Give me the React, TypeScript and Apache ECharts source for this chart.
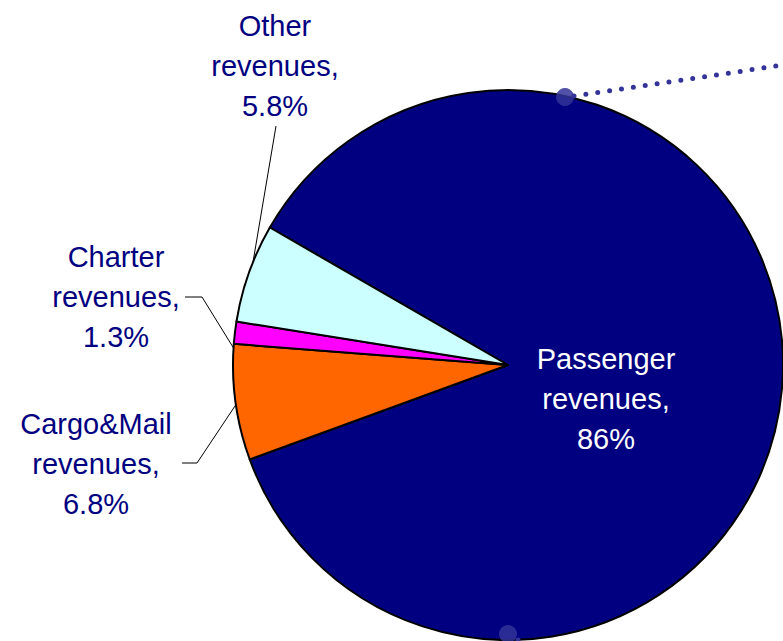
import React, { useEffect, useRef } from "react";
import * as echarts from "echarts";

const categories = ["Passenger revenues", "Cargo&Mail revenues", "Charter revenues", "Other revenues"];
const shares = [86, 6.8, 1.3, 5.8];
const sliceColors = ["#000080", "#FF6600", "#FF00FF", "#CCFFFF"];

// label placement (pixels) per slice: [x, y]
const labelPos: number[][] = [
  [606, 399],
  [96, 464],
  [116, 297],
  [275, 66],
];
// leader line points per slice (pie edge -> elbow -> label)
const leaderLines: (number[][] | null)[] = [
  null,
  [[237, 403], [197, 463], [182, 463]],
  [[236, 352], [202, 297], [185, 297]],
  [[252, 268], [264, 197], [276, 126]],
];

const FONT = "'Liberation Sans', Arial, sans-serif";

export default function App() {
  const ref = useRef<HTMLDivElement>(null);
  useEffect(() => {
    if (!ref.current) return;
    const chart = echarts.init(ref.current, undefined, { renderer: "svg" });
    const data = categories.map((name, i) => ({
      name,
      value: shares[i],
      itemStyle: { color: sliceColors[i] },
      label: {
        color: i === 0 ? "#FFFFFF" : "#000080",
      },
      labelLine: { show: i !== 0 },
    }));
    chart.setOption({
      animation: false,
      series: [
        {
          type: "pie",
          center: [508, 365],
          radius: 275,
          startAngle: 150,
          clockwise: true,
          avoidLabelOverlap: false,
          itemStyle: { borderColor: "#000", borderWidth: 2 },
          emphasis: { disabled: true },
          label: {
            show: true,
            position: "outside",
            fontFamily: FONT,
            fontSize: 29,
            lineHeight: 40,
            align: "center",
            formatter: (p: any) => `${p.name.replace(" ", "\n")},\n${p.value}%`,
          },
          labelLine: {
            show: true,
            lineStyle: { color: "#000", width: 1 },
          },
          labelLayout: (params: any) => {
            const i = params.dataIndex;
            const pos = labelPos[i];
            const res: any = {
              x: pos[0],
              y: pos[1],
              align: "center",
              verticalAlign: "middle",
            };
            if (leaderLines[i]) res.labelLinePoints = leaderLines[i];
            return res;
          },
          data,
        },
      ],
      graphic: [
        {
          type: "line",
          shape: { x1: 574, y1: 96, x2: 790, y2: 64 },
          style: { stroke: "#333399", lineWidth: 5, lineDash: [0, 12], lineCap: "round" },
          z: 10,
        },
        {
          type: "circle",
          shape: { cx: 565, cy: 97, r: 9 },
          style: { fill: "#333399", opacity: 0.85 },
          z: 11,
        },
        {
          type: "line",
          shape: { x1: 518, y1: 640, x2: 540, y2: 650 },
          style: { stroke: "#333399", lineWidth: 5, lineDash: [0, 12], lineCap: "round" },
          z: 10,
        },
        {
          type: "circle",
          shape: { cx: 508, cy: 634, r: 9 },
          style: { fill: "#333399", opacity: 0.85 },
          z: 11,
        },
      ],
    });
    return () => chart.dispose();
  }, []);
  return (
    <div
      ref={ref}
      style={{ position: "fixed", left: 0, top: 0, width: 783, height: 641, background: "#fff" }}
    />
  );
}
